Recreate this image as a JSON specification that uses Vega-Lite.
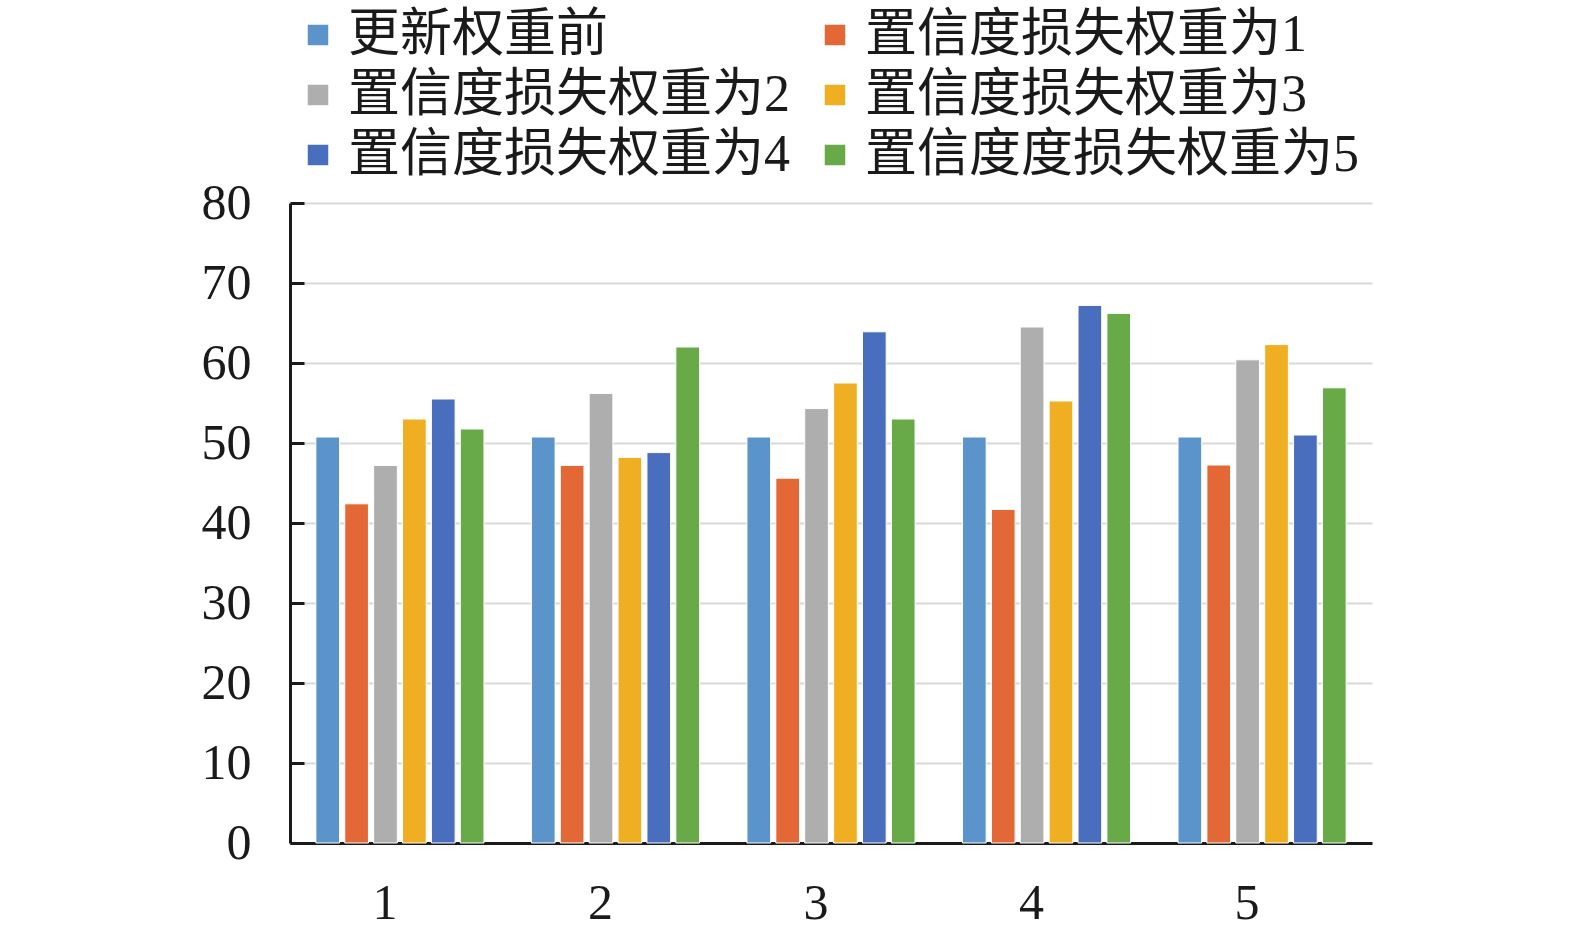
{
  "$schema": "https://vega.github.io/schema/vega-lite/v6.json",
  "width": 1082,
  "height": 640,
  "autosize": {"type": "none"},
  "padding": {"left": 290, "top": 203, "right": 203, "bottom": 97},
  "background": "white",
  "config": {
    "view": {"stroke": null},
    "font": "Liberation Serif",
    "axis": {"labelFont": "Liberation Serif, Noto Sans CJK SC", "labelColor": "#1a1a1a"}
  },
  "data": {
    "values": [
      {"group": "1", "series": "更新权重前", "value": 50.75},
      {"group": "1", "series": "置信度损失权重为1", "value": 42.4},
      {"group": "1", "series": "置信度损失权重为2", "value": 47.2},
      {"group": "1", "series": "置信度损失权重为3", "value": 53.0},
      {"group": "1", "series": "置信度损失权重为4", "value": 55.5},
      {"group": "1", "series": "置信度度损失权重为5", "value": 51.75},
      {"group": "2", "series": "更新权重前", "value": 50.75},
      {"group": "2", "series": "置信度损失权重为1", "value": 47.2},
      {"group": "2", "series": "置信度损失权重为2", "value": 56.2},
      {"group": "2", "series": "置信度损失权重为3", "value": 48.2},
      {"group": "2", "series": "置信度损失权重为4", "value": 48.8},
      {"group": "2", "series": "置信度度损失权重为5", "value": 62.0},
      {"group": "3", "series": "更新权重前", "value": 50.75},
      {"group": "3", "series": "置信度损失权重为1", "value": 45.6},
      {"group": "3", "series": "置信度损失权重为2", "value": 54.3},
      {"group": "3", "series": "置信度损失权重为3", "value": 57.5},
      {"group": "3", "series": "置信度损失权重为4", "value": 63.9},
      {"group": "3", "series": "置信度度损失权重为5", "value": 53.0},
      {"group": "4", "series": "更新权重前", "value": 50.75},
      {"group": "4", "series": "置信度损失权重为1", "value": 41.7},
      {"group": "4", "series": "置信度损失权重为2", "value": 64.5},
      {"group": "4", "series": "置信度损失权重为3", "value": 55.25},
      {"group": "4", "series": "置信度损失权重为4", "value": 67.2},
      {"group": "4", "series": "置信度度损失权重为5", "value": 66.2},
      {"group": "5", "series": "更新权重前", "value": 50.75},
      {"group": "5", "series": "置信度损失权重为1", "value": 47.25},
      {"group": "5", "series": "置信度损失权重为2", "value": 60.4},
      {"group": "5", "series": "置信度损失权重为3", "value": 62.3},
      {"group": "5", "series": "置信度损失权重为4", "value": 51.0},
      {"group": "5", "series": "置信度度损失权重为5", "value": 56.9}
    ]
  },
  "mark": {"type": "bar", "stroke": "white", "strokeWidth": 1},
  "encoding": {
    "x": {
      "field": "group",
      "type": "nominal",
      "title": null,
      "scale": {"paddingInner": 0.22, "paddingOuter": 0.12},
      "axis": {
        "labelAngle": 0,
        "labelFontSize": 50,
        "labelPadding": 35,
        "labelOffset": -15,
        "ticks": false,
        "domainColor": "#1a1a1a",
        "domainWidth": 3,
        "grid": false
      }
    },
    "xOffset": {
      "field": "series",
      "type": "nominal",
      "sort": ["更新权重前", "置信度损失权重为1", "置信度损失权重为2", "置信度损失权重为3", "置信度损失权重为4", "置信度度损失权重为5"],
      "scale": {"paddingInner": 0.18}
    },
    "y": {
      "field": "value",
      "type": "quantitative",
      "title": null,
      "scale": {"domain": [0, 80], "nice": false},
      "axis": {
        "values": [0, 10, 20, 30, 40, 50, 60, 70, 80],
        "labelFontSize": 50,
        "labelPadding": 53,
        "tickSize": -14,
        "tickWidth": 3,
        "tickColor": "#1a1a1a",
        "domainColor": "#1a1a1a",
        "domainWidth": 3,
        "gridColor": "#d9d9d9",
        "gridWidth": 2
      }
    },
    "color": {
      "field": "series",
      "type": "nominal",
      "title": null,
      "scale": {
        "domain": ["更新权重前", "置信度损失权重为1", "置信度损失权重为2", "置信度损失权重为3", "置信度损失权重为4", "置信度度损失权重为5"],
        "range": ["#5b93cb", "#e36836", "#aeaeae", "#f0ae22", "#4a6ebe", "#68aa47"]
      },
      "legend": {
        "orient": "none",
        "direction": "horizontal",
        "legendX": 2,
        "legendY": -194,
        "columns": 2,
        "gridAlign": "each",
        "columnPadding": 18,
        "rowPadding": 8,
        "symbolType": "square",
        "symbolSize": 420,
        "symbolStrokeWidth": 0,
        "labelFont": "Liberation Serif, Noto Sans CJK SC",
        "labelFontSize": 52,
        "labelColor": "#1a1a1a",
        "labelOffset": 4,
        "labelLimit": 0
      }
    }
  }
}
